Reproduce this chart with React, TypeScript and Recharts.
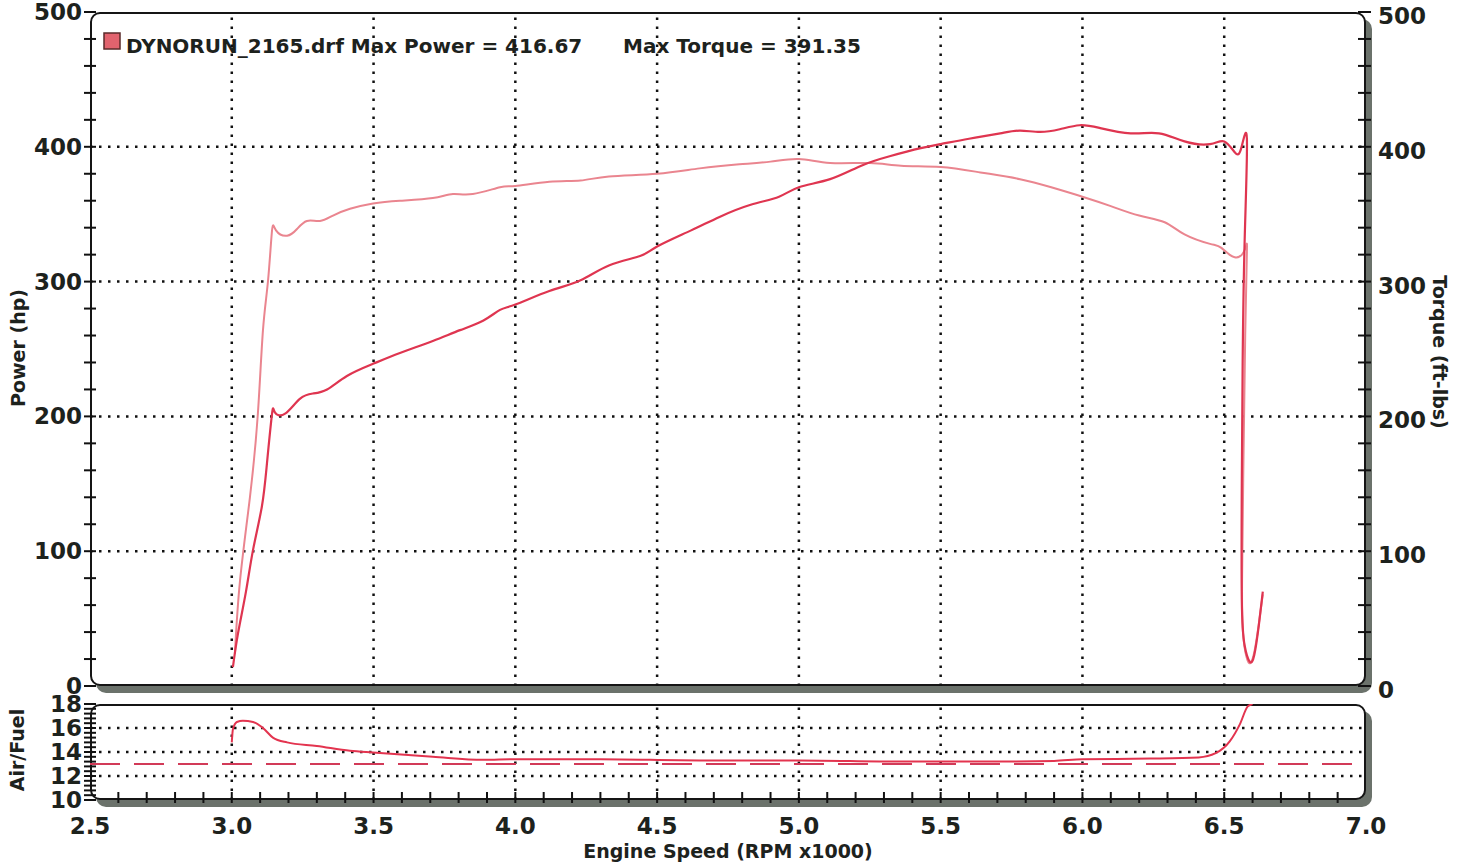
import React from 'react';
import { LineChart, Line, XAxis, YAxis, ReferenceLine } from 'recharts';

// dyno run
const powerRpm = [3.004, 3.022, 3.05, 3.075, 3.106, 3.124, 3.142, 3.152, 3.188, 3.24, 3.286, 3.336, 3.406, 3.498, 3.593, 3.709, 3.805, 3.886, 3.946, 4.0, 4.12, 4.23, 4.33, 4.44, 4.5, 4.62, 4.72, 4.83, 4.93, 5.0, 5.11, 5.22, 5.32, 5.43, 5.5, 5.6, 5.71, 5.78, 5.85, 5.92, 5.99, 6.06, 6.17, 6.27, 6.36, 6.45, 6.5, 6.537, 6.56, 6.58, 6.572, 6.565, 6.562, 6.562, 6.572, 6.59, 6.606, 6.622, 6.636];
const powerHp = [14, 39, 70, 101, 133, 165, 202, 203, 202, 213, 217, 220, 230, 239, 247, 256, 264, 271, 279, 283, 293, 301, 312, 319, 326, 338, 348, 357, 363, 370, 376, 386, 393, 399, 402, 406, 410, 412, 411, 413, 416, 414, 410, 410, 404, 402, 404, 396, 399, 406, 330, 240, 150, 64, 30, 18, 23, 45, 70];

const torqueRpm = [3.011, 3.029, 3.064, 3.092, 3.11, 3.128, 3.142, 3.156, 3.195, 3.23, 3.265, 3.311, 3.357, 3.417, 3.498, 3.593, 3.709, 3.78, 3.85, 3.946, 4.0, 4.12, 4.23, 4.33, 4.5, 4.65, 4.79, 4.9, 5.0, 5.11, 5.25, 5.36, 5.5, 5.64, 5.78, 5.89, 6.0, 6.1, 6.2, 6.29, 6.36, 6.45, 6.49, 6.537, 6.573, 6.58, 6.574, 6.568, 6.563, 6.566, 6.578, 6.592, 6.607, 6.622, 6.636];
const torqueFtLb = [24, 78, 140, 202, 264, 301, 338, 338, 334, 339, 345, 345, 349, 354, 358, 360, 362, 365, 365, 370, 371, 374, 375, 378, 380, 384, 387, 389, 391, 388, 388, 386, 385, 381, 376, 370, 363, 356, 349, 344, 335, 328, 325, 318, 324, 322, 260, 170, 80, 40, 22, 17, 26, 46, 68];

const afrRpm = [3.0, 3.004, 3.018, 3.039, 3.075, 3.11, 3.145, 3.195, 3.3, 3.417, 3.498, 3.709, 3.886, 4.0, 4.3, 4.65, 5.0, 5.36, 5.71, 5.9, 6.0, 6.24, 6.41, 6.47, 6.52, 6.555, 6.583, 6.6];
const afrRatio = [14.8, 15.9, 16.5, 16.6, 16.5, 16.0, 15.2, 14.8, 14.5, 14.1, 13.95, 13.6, 13.35, 13.4, 13.4, 13.3, 13.3, 13.2, 13.2, 13.25, 13.4, 13.45, 13.55, 13.9, 14.9, 16.3, 17.8, 18.0];
const afrTarget = 13.0;

const rpmLabels = [2.5, 3.0, 3.5, 4.0, 4.5, 5.0, 5.5, 6.0, 6.5, 7.0];
const rpmGrid = [3.0, 3.5, 4.0, 4.5, 5.0, 5.5, 6.0, 6.5];
const powerLabels = [0, 100, 200, 300, 400, 500];
const powerGrid = [100, 200, 300, 400];
const afrLabels = [10, 12, 14, 16, 18];
const afrGrid = [12, 14, 16];

const powerData = powerRpm.map((rpm, i) => ({ rpm, hp: powerHp[i] }));
const torqueData = torqueRpm.map((rpm, i) => ({ rpm, tq: torqueFtLb[i] }));
const afrData = afrRpm.map((rpm, i) => ({ rpm, afr: afrRatio[i] }));

const r1 = (v: number) => Math.round(v * 10) / 10;
// minor ticks, 5 per major step
const hpTicks = Array.from({ length: 26 }, (_, i) => i * 20);
const afrTicks = Array.from({ length: 21 }, (_, i) => r1(10 + i * 0.4));
const rpmTicks = Array.from({ length: 46 }, (_, i) => r1(2.5 + i * 0.1));

const FONT = '"DejaVu Sans", Verdana, sans-serif';
const INK = '#1d221d';
const W = 1465;

const LeftTick = (props: any, labels: number[]) => {
  const { x, y, payload } = props;
  const ax = x + 8;
  const v = r1(payload.value);
  return (
    <g>
      <line x1={ax - 6} x2={ax + 6} y1={y} y2={y} stroke="#111" strokeWidth={2} />
      {labels.includes(v) && (
        <text x={ax - 8} y={y} textAnchor="end" dominantBaseline="central" fontFamily={FONT} fontWeight="bold" fontSize={23} fill={INK}>
          {v}
        </text>
      )}
    </g>
  );
};

const RightTick = (props: any) => {
  const { x, y, payload } = props;
  const ax = x - 8;
  const v = r1(payload.value);
  return (
    <g>
      <line x1={ax - 8} x2={ax + 5} y1={y} y2={y} stroke="#111" strokeWidth={2} />
      {powerLabels.includes(v) && (
        <text x={ax + 12} y={y + 4} textAnchor="start" dominantBaseline="central" fontFamily={FONT} fontWeight="bold" fontSize={23} fill={INK}>
          {v}
        </text>
      )}
    </g>
  );
};

const BottomTick = (props: any) => {
  const { x, y, payload } = props;
  const v = r1(payload.value);
  const edge = v === 2.5 || v === 7.0;
  return (
    <g>
      {!edge && <line x1={x} x2={x} y1={y - 8} y2={y + 3} stroke="#111" strokeWidth={2} />}
      {rpmLabels.includes(v) && (
        <text x={x} y={y + 26} textAnchor="middle" dominantBaseline="central" fontFamily={FONT} fontWeight="bold" fontSize={23} fill={INK}>
          {v.toFixed(1)}
        </text>
      )}
    </g>
  );
};

const dotted = { stroke: '#111', strokeWidth: 2.5, strokeDasharray: '2.5 6.5' };

const frame = (top: number, height: number): React.CSSProperties => ({
  position: 'absolute',
  left: 90,
  top,
  width: 1276,
  height,
  boxSizing: 'border-box',
  border: '2px solid #151515',
  borderRadius: 10,
  boxShadow: '6px 7px 0 #6b726b',
  background: '#fff',
});

const titleStyle = { fontFamily: FONT, fontWeight: 'bold' as const, fill: INK };

export default function App() {
  return (
    <div style={{ position: 'relative', width: W, height: 867, background: '#fff', overflow: 'hidden' }}>
      <style>{'body{margin:0}'}</style>
      <div style={frame(12, 674)} />
      <div style={frame(704, 96)} />

      <div style={{ position: 'absolute', left: 0, top: 0 }}>
        <LineChart width={W} height={712} margin={{ top: 12, right: 0, bottom: 26, left: 0 }}>
          <XAxis type="number" dataKey="rpm" domain={[2.5, 7]} hide allowDataOverflow />
          <YAxis yAxisId="hp" domain={[0, 500]} ticks={hpTicks} interval={0} width={90} axisLine={false} tickLine={false} tickSize={0} tickMargin={8} tick={(p: any) => LeftTick(p, powerLabels)} />
          <YAxis yAxisId="tq" orientation="right" domain={[0, 500]} ticks={hpTicks} interval={0} width={99} axisLine={false} tickLine={false} tickSize={0} tickMargin={8} tick={RightTick} />
          {powerGrid.map((v) => (
            <ReferenceLine key={'h' + v} yAxisId="hp" y={v} {...dotted} />
          ))}
          {rpmGrid.map((v) => (
            <ReferenceLine key={'v' + v} yAxisId="hp" x={v} {...dotted} />
          ))}
          <Line yAxisId="tq" data={torqueData} dataKey="tq" type="natural" stroke="#ea858f" strokeWidth={2} dot={false} isAnimationActive={false} />
          <Line yAxisId="hp" data={powerData} dataKey="hp" type="natural" stroke="#df3550" strokeWidth={2.2} dot={false} isAnimationActive={false} />
          <g>
            <rect x={104} y={33} width={16} height={16} fill="#e2636e" stroke="#5a2a2a" strokeWidth={1.5} />
            <text x={126} y={46} dominantBaseline="central" fontSize={20} {...titleStyle}>
              DYNORUN_2165.drf Max Power = 416.67
            </text>
            <text x={623} y={46} dominantBaseline="central" fontSize={20} {...titleStyle}>
              Max Torque = 391.35
            </text>
            <text x={18} y={348} transform="rotate(-90 18 348)" textAnchor="middle" dominantBaseline="central" fontSize={19} {...titleStyle}>
              Power (hp)
            </text>
            <text x={1440} y={352} transform="rotate(90 1440 352)" textAnchor="middle" dominantBaseline="central" fontSize={19} {...titleStyle}>
              Torque (ft-lbs)
            </text>
          </g>
        </LineChart>
      </div>

      <div style={{ position: 'absolute', left: 0, top: 690 }}>
        <LineChart width={W} height={177} margin={{ top: 14, right: 99, bottom: 0, left: 0 }}>
          <XAxis type="number" dataKey="rpm" domain={[2.5, 7]} ticks={rpmTicks} interval={0} height={67} axisLine={false} tickLine={false} tickSize={0} tickMargin={0} tick={BottomTick} allowDataOverflow />
          <YAxis domain={[10, 18]} ticks={afrTicks} interval={0} width={90} axisLine={false} tickLine={false} tickSize={0} tickMargin={8} tick={(p: any) => LeftTick(p, afrLabels)} allowDataOverflow />
          {afrGrid.map((v) => (
            <ReferenceLine key={'a' + v} y={v} {...dotted} />
          ))}
          {rpmGrid.map((v) => (
            <ReferenceLine key={'b' + v} x={v} {...dotted} />
          ))}
          <ReferenceLine y={afrTarget} stroke="#d23a58" strokeWidth={2} strokeDasharray="30 14" />
          <Line data={afrData} dataKey="afr" type="monotone" stroke="#e3344f" strokeWidth={2} dot={false} isAnimationActive={false} />
          <g>
            <text x={17} y={60} transform="rotate(-90 17 60)" textAnchor="middle" dominantBaseline="central" fontSize={19} {...titleStyle}>
              Air/Fuel
            </text>
            <text x={728} y={161} textAnchor="middle" dominantBaseline="central" fontSize={19} {...titleStyle}>
              Engine Speed (RPM x1000)
            </text>
          </g>
        </LineChart>
      </div>
    </div>
  );
}
